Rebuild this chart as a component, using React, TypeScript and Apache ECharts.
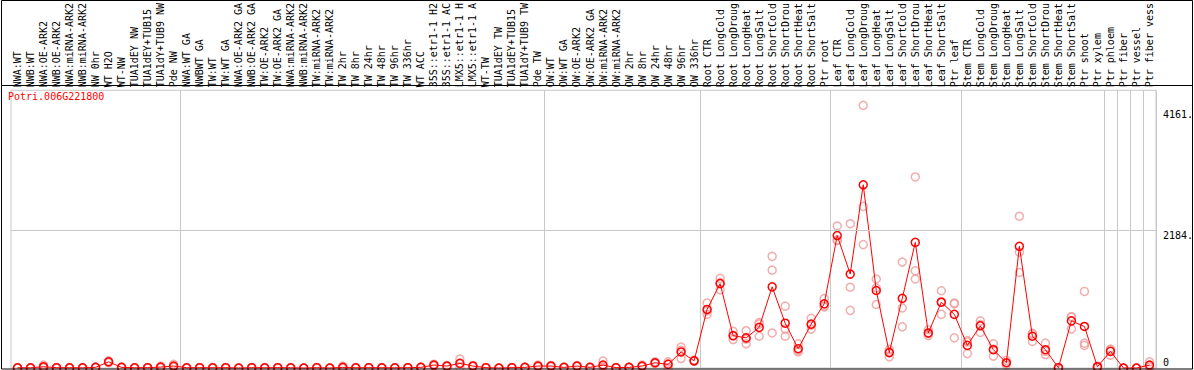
import React, { useEffect, useRef } from "react";
import * as echarts from "echarts";

const geneId = "Potri.006G221800";

const categories = [
  "NWA:WT", "NWB:WT", "NWA:OE-ARK2", "NWB:OE-ARK2", "NWA:miRNA-ARK2", "NWB:miRNA-ARK2", "NW 0hr", "WT H2O", "WT-NW", "TUA1dEY NW", "TUA1dEY+TUB15", "TUA1dY+TUB9 NW", "Pde NW",
  "NWA:WT GA", "NWBWT GA", "TW:WT", "TW:WT GA", "NWA:OE-ARK2 GA", "NWB:OE-ARK2 GA", "TW:OE-ARK2", "TW:OE-ARK2 GA", "NWA:miRNA-ARK2", "NWB:miRNA-ARK2", "TW:miRNA-ARK2", "TW:miRNA-ARK2", "TW 2hr", "TW 8hr", "TW 24hr", "TW 48hr", "TW 96hr", "TW 336hr", "WT ACC", "35S::etr1-1 H2", "35S::etr1-1 AC", "LMX5::etr1-1 H", "LMX5::etr1-1 A", "WT-TW", "TUA1dEY TW", "TUA1dEY+TUB15", "TUA1dY+TUB9 TW", "Pde TW",
  "OW:WT", "OW:WT GA", "OW:OE-ARK2", "OW:OE-ARK2 GA", "OW:miRNA-ARK2", "OW:miRNA-ARK2", "OW 2hr", "OW 8hr", "OW 24hr", "OW 48hr", "OW 96hr", "OW 336hr",
  "Root CTR", "Root LongCold", "Root LongDroug", "Root LongHeat", "Root LongSalt", "Root ShortCold", "Root ShortDrou", "Root ShortHeat", "Root ShortSalt", "Ptr root",
  "Leaf CTR", "Leaf LongCold", "Leaf LongDroug", "Leaf LongHeat", "Leaf LongSalt", "Leaf ShortCold", "Leaf ShortDrou", "Leaf ShortHeat", "Leaf ShortSalt", "Ptr leaf",
  "Stem CTR", "Stem LongCold", "Stem LongDroug", "Stem LongHeat", "Stem LongSalt", "Stem ShortCold", "Stem ShortDrou", "Stem ShortHeat", "Stem ShortSalt", "Ptr shoot", "Ptr xylem",
  "Ptr phloem", "Ptr fiber", "Ptr vessel", "Ptr fiber vess",
];

const means = [
  4, 3, 20, 5, 4, 3, 10, 98, 10, 4, 5, 15, 31,
  4, 5, 4, 5, 0, 5, 4, 5, 4, 0, 5, 0, 10, 4, 5, 4, 3, 5, 10, 47, 31, 73, 31, 5, 0, 5, 10, 31,
  31, 10, 31, 10, 47, 5, 10, 31, 83, 57, 254, 114,
  928, 1337, 513, 477, 643, 1286, 710, 306, 695, 1016,
  2099, 1488, 2903, 1228, 244, 1104, 1990, 555, 1042, 850,
  358, 669, 290, 83, 1928, 503, 290, 5, 746, 658, 20,
  264, 0, 0, 47,
];

const rep1 = [
  6, 4, 47, 7, 6, 4, 14, 115, 14, 6, 7, 31, 57,
  6, 7, 6, 7, 2, 7, 6, 7, 6, 2, 7, 2, 31, 6, 7, 6, 5, 7, 14, 60, 40, 140, 40, 7, 2, 7, 14, 45,
  40, 14, 40, 14, 109, 7, 14, 45, 98, 98, 331, 125,
  1031, 1420, 580, 591, 720, 1768, 980, 384, 788, 1099,
  2250, 2286, 4161, 1410, 295, 1679, 3027, 606, 1224, 1031,
  435, 746, 384, 120, 2405, 549, 394, 8, 813, 1213, 30,
  295, 0, 0, 98,
];

const rep2 = [
  2, 2, 8, 4, 3, 2, 8, 92, 8, 3, 4, 8, 20,
  3, 4, 3, 4, 0, 4, 3, 4, 3, 0, 4, 0, 0, 3, 4, 3, 2, 4, 8, 45, 30, 69, 30, 4, 0, 4, 8, 28,
  30, 8, 30, 8, 20, 4, 8, 28, 80, 68, 281, 112,
  903, 1352, 508, 456, 695, 1550, 617, 280, 680, 980,
  2030, 1280, 2561, 1268, 261, 953, 1539, 546, 1052, 1016,
  411, 690, 299, 83, 1835, 540, 263, 4, 808, 394, 20,
  295, 0, 0, 30,
];

const rep3 = [
  4, 3, 5, 4, 3, 3, 8, 87, 8, 3, 4, 6, 16,
  3, 4, 3, 4, 0, 4, 3, 4, 3, 0, 4, 0, 0, 3, 4, 3, 2, 4, 8, 36, 23, 10, 23, 4, 0, 4, 8, 20,
  23, 8, 23, 8, 12, 4, 8, 20, 71, 5, 150, 105,
  850, 1239, 451, 384, 503, 555, 503, 254, 617, 969,
  2017, 913, 1955, 1006, 176, 653, 1410, 513, 850, 477,
  228, 565, 187, 47, 1513, 420, 213, 3, 617, 358, 10,
  202, 0, 0, 13,
];

// category indices where a new sample group starts (vertical separators)
const groupStarts = [13, 41, 53, 63, 73, 84, 85, 86, 87];

// labelled reference values on the right side
const refValues = [4161, 2184, 0];
const refLabels = ["4161.", "2184.", "0"];

const MONO = "'DejaVu Sans Mono', 'Liberation Mono', monospace";

export default function App() {
  const ref = useRef<HTMLDivElement>(null);

  useEffect(() => {
    if (!ref.current) return;
    const chart = echarts.init(ref.current, null, { renderer: "svg" });

    const repSeries = [rep1, rep2, rep3].map((d, k) => ({
      type: "scatter",
      name: "rep" + (k + 1),
      data: d,
      symbol: "circle",
      symbolSize: 8,
      z: 2,
      silent: true,
      itemStyle: { color: "rgba(255,255,255,0)", borderColor: "#ee9a9a", borderWidth: 1.5 },
    }));

    chart.setOption({
      animation: false,
      title: {
        text: geneId,
        left: 8,
        top: 91,
        padding: 0,
        textStyle: { color: "#ff0000", fontFamily: MONO, fontSize: 10, fontWeight: "normal" },
      },
      grid: {
        left: 11,
        right: 38,
        top: 85,
        bottom: 2,
        show: true,
        borderColor: "#c8c8c8",
        borderWidth: 1,
        backgroundColor: "transparent",
      },
      xAxis: {
        type: "category",
        data: categories,
        position: "top",
        boundaryGap: true,
        axisLine: { show: false },
        axisTick: { show: false },
        axisLabel: {
          interval: 0,
          rotate: 90,
          margin: 3,
          fontFamily: MONO,
          fontSize: 10,
          color: "#000",
        },
        splitLine: {
          show: true,
          interval: (i: number) => groupStarts.includes(i),
          lineStyle: { color: "#c8c8c8", width: 1 },
        },
      },
      yAxis: {
        type: "value",
        min: 0,
        max: 4400,
        axisLine: { show: false },
        axisTick: { show: false },
        axisLabel: { show: false },
        splitLine: { show: false },
      },
      series: [
        ...repSeries,
        {
          type: "line",
          name: "mean",
          data: means,
          symbol: "circle",
          symbolSize: 8,
          z: 3,
          clip: false,
          lineStyle: { color: "#ff0000", width: 1 },
          itemStyle: { color: "rgba(255,255,255,0)", borderColor: "#ff0000", borderWidth: 1.5 },
          markLine: {
            silent: true,
            symbol: "none",
            data: refValues.map((v, k) => ({
              yAxis: v,
              lineStyle: {
                color: v === refValues[1] ? "#c8c8c8" : "rgba(0,0,0,0)",
                width: 1,
                type: "solid",
              },
              label: {
                show: true,
                position: "end",
                distance: 7,
                formatter: refLabels[k],
                color: "#000",
                fontFamily: MONO,
                fontSize: 10,
                verticalAlign: v === 0 ? "bottom" : "top",
                padding: v === refValues[0] ? [4, 0, 0, 0] : v === 0 ? [0, 0, 1, 0] : [0, 0, 0, 0],
              },
            })),
          },
        },
      ],
      graphic: [
        {
          type: "rect",
          z: 100,
          silent: true,
          shape: { x: 1.5, y: 0.5, width: 1191, height: 368.5 },
          style: { fill: "none", stroke: "#000", lineWidth: 1 },
        },
        {
          type: "line",
          z: 100,
          silent: true,
          shape: { x1: 1.5, y1: 85.5, x2: 1192.5, y2: 85.5 },
          style: { stroke: "#000", lineWidth: 1 },
        },
      ],
    });

    return () => chart.dispose();
  }, []);

  return (
    <div
      ref={ref}
      style={{ position: "absolute", left: 0, top: 0, width: 1194, height: 370, background: "#fff" }}
    />
  );
}
